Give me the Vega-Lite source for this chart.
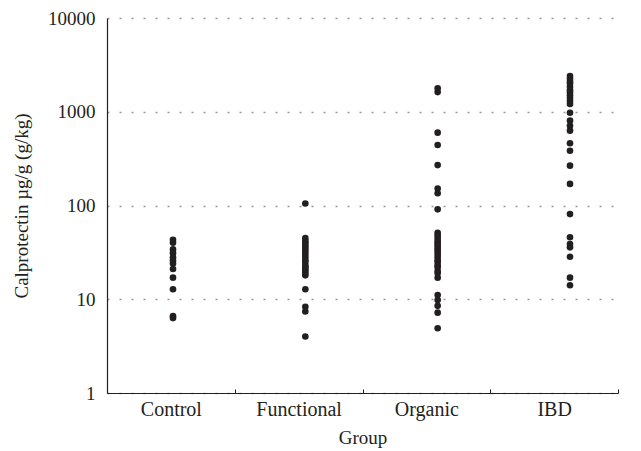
{
  "$schema": "https://vega.github.io/schema/vega-lite/v6.json",
  "autosize": {"type": "none"},
  "width": 511,
  "height": 375,
  "padding": {"left": 107, "top": 18, "right": 23, "bottom": 58},
  "background": "white",
  "config": {
    "view": {"stroke": null},
    "font": "Liberation Serif",
    "axis": {"labelFont": "Liberation Serif", "titleFont": "Liberation Serif", "labelColor": "#231f20", "titleColor": "#231f20", "titleFontWeight": "normal"}
  },
  "data": {"values": [
    {"group": "Control", "value": 43}, {"group": "Control", "value": 40}, {"group": "Control", "value": 34}, {"group": "Control", "value": 31},
    {"group": "Control", "value": 28}, {"group": "Control", "value": 26}, {"group": "Control", "value": 24}, {"group": "Control", "value": 21},
    {"group": "Control", "value": 17}, {"group": "Control", "value": 12.8}, {"group": "Control", "value": 6.6}, {"group": "Control", "value": 6.3},
    {"group": "Functional", "value": 105}, {"group": "Functional", "value": 45}, {"group": "Functional", "value": 42}, {"group": "Functional", "value": 40},
    {"group": "Functional", "value": 38}, {"group": "Functional", "value": 36}, {"group": "Functional", "value": 34}, {"group": "Functional", "value": 32},
    {"group": "Functional", "value": 30}, {"group": "Functional", "value": 28}, {"group": "Functional", "value": 26}, {"group": "Functional", "value": 25},
    {"group": "Functional", "value": 23}, {"group": "Functional", "value": 22}, {"group": "Functional", "value": 21}, {"group": "Functional", "value": 20},
    {"group": "Functional", "value": 19}, {"group": "Functional", "value": 18}, {"group": "Functional", "value": 12.8}, {"group": "Functional", "value": 8.3},
    {"group": "Functional", "value": 7.4}, {"group": "Functional", "value": 4.0},
    {"group": "Organic", "value": 1780}, {"group": "Organic", "value": 1620}, {"group": "Organic", "value": 598}, {"group": "Organic", "value": 442},
    {"group": "Organic", "value": 270}, {"group": "Organic", "value": 152}, {"group": "Organic", "value": 135}, {"group": "Organic", "value": 91},
    {"group": "Organic", "value": 51}, {"group": "Organic", "value": 48}, {"group": "Organic", "value": 45}, {"group": "Organic", "value": 42},
    {"group": "Organic", "value": 40}, {"group": "Organic", "value": 38}, {"group": "Organic", "value": 36}, {"group": "Organic", "value": 34},
    {"group": "Organic", "value": 32}, {"group": "Organic", "value": 30}, {"group": "Organic", "value": 28}, {"group": "Organic", "value": 26},
    {"group": "Organic", "value": 25}, {"group": "Organic", "value": 23}, {"group": "Organic", "value": 22}, {"group": "Organic", "value": 20},
    {"group": "Organic", "value": 19}, {"group": "Organic", "value": 17}, {"group": "Organic", "value": 11.1}, {"group": "Organic", "value": 9.8},
    {"group": "Organic", "value": 8.5}, {"group": "Organic", "value": 7.2}, {"group": "Organic", "value": 4.9},
    {"group": "IBD", "value": 2400}, {"group": "IBD", "value": 2250}, {"group": "IBD", "value": 2100}, {"group": "IBD", "value": 2000},
    {"group": "IBD", "value": 1850}, {"group": "IBD", "value": 1700}, {"group": "IBD", "value": 1600}, {"group": "IBD", "value": 1500},
    {"group": "IBD", "value": 1400}, {"group": "IBD", "value": 1300}, {"group": "IBD", "value": 1210}, {"group": "IBD", "value": 977},
    {"group": "IBD", "value": 803}, {"group": "IBD", "value": 710}, {"group": "IBD", "value": 628}, {"group": "IBD", "value": 461},
    {"group": "IBD", "value": 384}, {"group": "IBD", "value": 266}, {"group": "IBD", "value": 170}, {"group": "IBD", "value": 81},
    {"group": "IBD", "value": 45.8}, {"group": "IBD", "value": 38.8}, {"group": "IBD", "value": 35.8}, {"group": "IBD", "value": 28.4},
    {"group": "IBD", "value": 17}, {"group": "IBD", "value": 14.1}
  ]},
  "layer": [
    {
      "mark": {"type": "point", "opacity": 0},
      "encoding": {
        "x": {
          "field": "group", "type": "nominal", "sort": ["Control", "Functional", "Organic", "IBD"],
          "scale": {"type": "band", "paddingInner": 0, "paddingOuter": 0},
          "axis": {"title": "Group", "labelAngle": 0, "labelFontSize": 20, "titleFontSize": 19, "labelPadding": 10, "titlePadding": 9,
                   "domainColor": "#231f20", "domainWidth": 1.2, "ticks": true, "tickColor": "#231f20", "tickWidth": 1, "tickBand": "extent", "tickSize": -4, "tickOffset": 0, "grid": false}
        },
        "y": {
          "field": "value", "type": "quantitative",
          "scale": {"type": "log", "domain": [1, 10000], "nice": false},
          "axis": {"title": "Calprotectin µg/g (g/kg)", "values": [1, 10, 100, 1000, 10000], "format": "d", "labelFontSize": 19, "titleFontSize": 19,
                   "ticks": false, "labelPadding": 12, "titlePadding": 16, "domainColor": "#231f20", "domainWidth": 1.2,
                   "grid": true, "gridColor": "#999999", "gridDash": [2, 10], "gridWidth": 1.5}
        }
      }
    },
    {
      "mark": {"type": "circle", "size": 44, "opacity": 1, "color": "#231f20"},
      "encoding": {
        "x": {
          "field": "group", "type": "nominal", "sort": ["Control", "Functional", "Organic", "IBD"],
          "scale": {"type": "point", "range": [66, 463], "padding": 0},
          "axis": null
        },
        "y": {"field": "value", "type": "quantitative"}
      }
    }
  ],
  "resolve": {"scale": {"x": "independent"}}
}
